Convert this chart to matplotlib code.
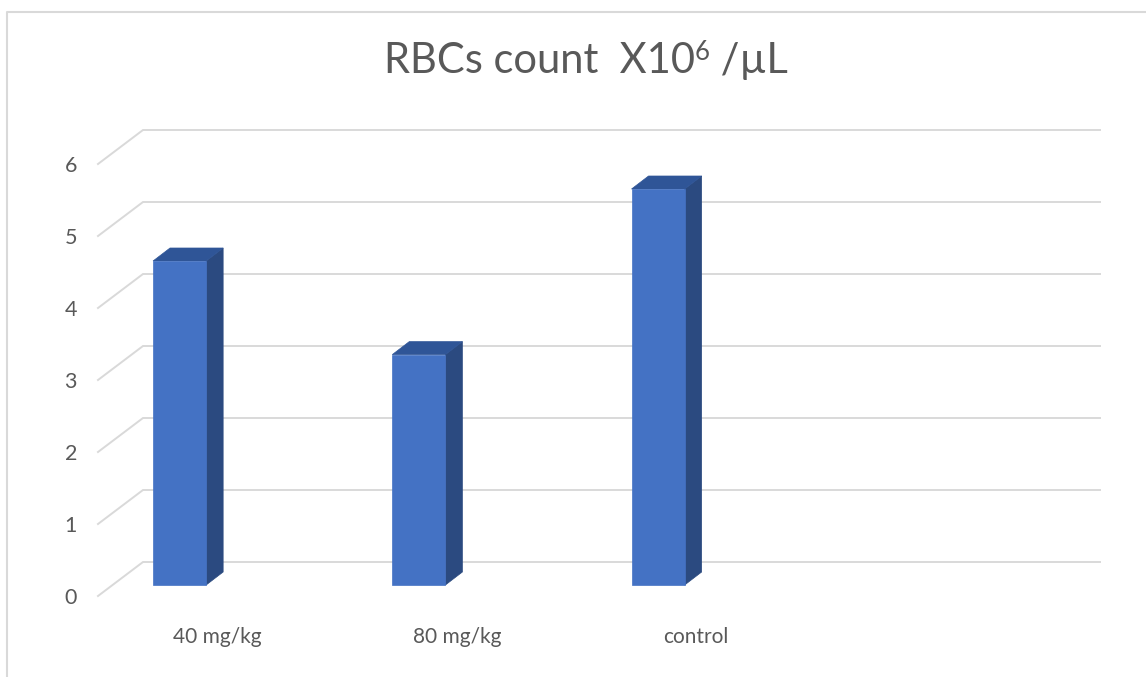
import matplotlib
matplotlib.use("Agg")
import matplotlib.pyplot as plt
import numpy as np
from matplotlib.patches import Polygon
from matplotlib.lines import Line2D
from matplotlib.transforms import IdentityTransform

# ---- data -------------------------------------------------------------
categories = ["40 mg/kg", "80 mg/kg", "control"]
rbc_counts = [4.5, 3.2, 5.5]
y_ticks = [0, 1, 2, 3, 4, 5, 6]
n_slots = 4
title_main = "RBCs count  X10"
title_sup = "6"
title_tail = " /µL"

# ---- styling -----------------------------------------------------------
FONT = "Lato"
TEXT_COLOR = "#595959"
GRID_COLOR = "#D9D9D9"
FRONT_COLOR = "#4472C4"
TOP_COLOR = "#2F5597"
SIDE_COLOR = "#2B4A80"

plt.rcParams["font.family"] = [FONT, "DejaVu Sans"]

W, H, DPI = 1146, 677, 100
fig = plt.figure(figsize=(W / DPI, H / DPI), dpi=DPI)
fig.patch.set_facecolor("white")

# back wall of the pseudo-3D plot area (pixel coordinates, y from top)
wall_left, wall_right, wall_bottom, wall_top = 143, 1100, 562, 130
ax = fig.add_axes([wall_left / W, 1 - wall_bottom / H,
                   (wall_right - wall_left) / W, (wall_bottom - wall_top) / H])
ax.set_xlim(0, n_slots)
ax.set_ylim(0, max(y_ticks))
ax.axis("off")

# oblique depth offsets in display pixels (x right, y up)
FLOOR_FRONT = np.array([-45.0, -34.0])   # front edge of floor / side wall
BAR_FRONT = np.array([-30.4, -23.0])     # plane of the bars' front faces
BAR_BACK = np.array([-13.4, -10.0])      # plane of the bars' back faces
BAR_OFFSET = 0.28                        # bar centre inside its category slot
BAR_WIDTH = 0.222


def px(x, y, plane):
    """Data point -> display pixels, pushed forward into a depth plane."""
    return ax.transData.transform((x, y)) + plane


ident = IdentityTransform()

# gridlines: diagonal on the side wall + horizontal on the back wall
for v in y_ticks:
    p0 = px(0, v, FLOOR_FRONT)
    p1 = px(0, v, np.zeros(2))
    p2 = px(n_slots, v, np.zeros(2))
    fig.add_artist(Line2D([p0[0], p1[0], p2[0]], [p0[1], p1[1], p2[1]],
                          transform=ident, color=GRID_COLOR, lw=1.4,
                          solid_joinstyle="miter", zorder=1))
    fig.text(p0[0] - 21, p0[1] - 2, str(v), transform=ident,
             ha="right", va="center", fontsize=15.5, color=TEXT_COLOR)

# bars drawn as front face, top face and right side face
for i, v in enumerate(rbc_counts):
    x0 = i + BAR_OFFSET - BAR_WIDTH / 2
    x1 = i + BAR_OFFSET + BAR_WIDTH / 2
    fl0, fr0 = px(x0, 0, BAR_FRONT), px(x1, 0, BAR_FRONT)
    flt, frt = px(x0, v, BAR_FRONT), px(x1, v, BAR_FRONT)
    bl_t, br_t = px(x0, v, BAR_BACK), px(x1, v, BAR_BACK)
    br0 = px(x1, 0, BAR_BACK)
    side = Polygon([fr0, frt, br_t, br0], closed=True, transform=ident,
                   facecolor=SIDE_COLOR, edgecolor=SIDE_COLOR, lw=0.5, zorder=3)
    topf = Polygon([flt, frt, br_t, bl_t], closed=True, transform=ident,
                   facecolor=TOP_COLOR, edgecolor=TOP_COLOR, lw=0.5, zorder=3)
    front = Polygon([fl0, fr0, frt, flt], closed=True, transform=ident,
                    facecolor=FRONT_COLOR, edgecolor=FRONT_COLOR, lw=0.5, zorder=4)
    for patch in (side, topf, front):
        fig.add_artist(patch)

# category labels under the floor front edge
for i, name in enumerate(categories):
    p = px(i + 0.5, 0, FLOOR_FRONT)
    fig.text(p[0], p[1] - 41, name, transform=ident, ha="center", va="center",
             fontsize=15, color=TEXT_COLOR)

# title: main text, raised exponent, unit, centred as one group
renderer = fig.canvas.get_renderer()
title_size = 30
baseline_y = H - 73
parts = [
    (title_main, title_size, 0),
    (title_sup, title_size * 0.62, 13),
    (title_tail, title_size, 0),
]
texts, widths = [], []
for s, size, rise in parts:
    t = fig.text(0, baseline_y + rise, s, transform=ident, ha="left",
                 va="baseline", fontsize=size, color=TEXT_COLOR)
    texts.append(t)
    widths.append(t.get_window_extent(renderer).width)
x = 586 - sum(widths) / 2
for t, w in zip(texts, widths):
    t.set_x(x)
    x += w

# chart area border
fig.add_artist(Line2D([7, 7, W + 5], [-5, H - 12, H - 12], transform=ident,
                      color=GRID_COLOR, lw=1.5, zorder=0))

fig.savefig("out.png", dpi=DPI, facecolor="white")
